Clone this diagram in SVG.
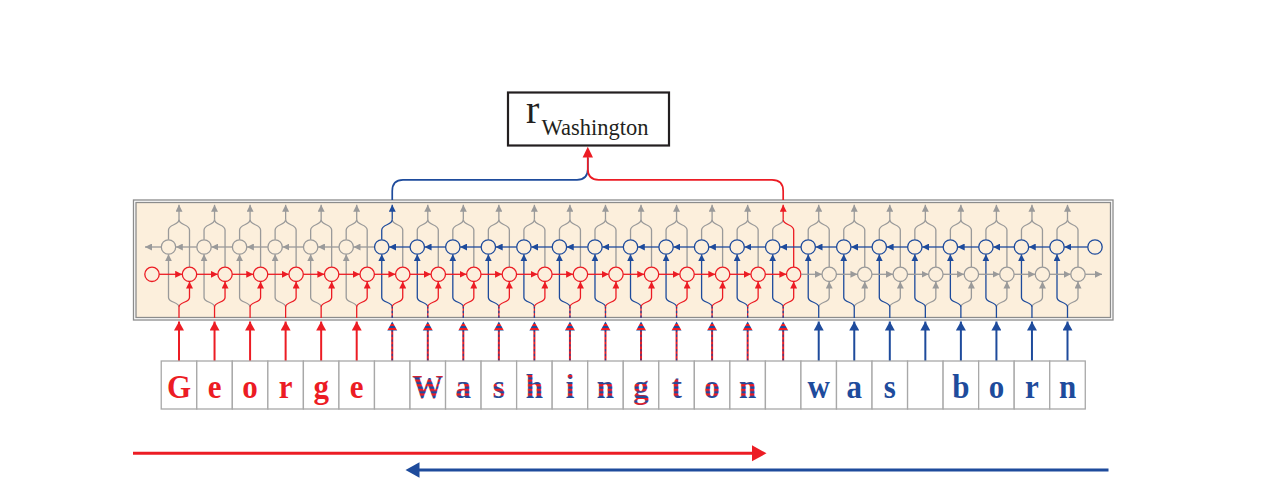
<svg xmlns="http://www.w3.org/2000/svg" width="1275" height="489" viewBox="0 0 1275 489">
<style>
.g{stroke:#9a9a9a}.r{stroke:#ec1c24}.b{stroke:#1e4b9c}
.w path{fill:none;stroke-width:1.3}
.w circle{fill:#fcefdc;stroke-width:1.3}
.ag{marker-end:url(#mg)}.ar{marker-end:url(#mr)}.ab{marker-end:url(#mb)}
.in{stroke-width:2;fill:none}
.Ar{marker-end:url(#Mr)}.Ab{marker-end:url(#Mb)}
.bd{stroke:#1e4b9c;stroke-width:1.1;stroke-dasharray:2.4 2.4;fill:none}
.lb rect{fill:#fff;stroke:#a8a8a8;stroke-width:1.3}
.lt{font-family:"Liberation Serif","Times New Roman",serif;font-weight:bold;font-size:31px;text-anchor:middle}
.fr{fill:#ec1c24}.fb{fill:#1e4b9c}.fs{fill:url(#pl)}
</style>
<defs>
<marker id="mg" viewBox="0 0 7 7" refX="7" refY="3.5" markerWidth="7" markerHeight="7" markerUnits="userSpaceOnUse" orient="auto"><path d="M0,0L7,3.5L0,7z" fill="#9a9a9a"/></marker>
<marker id="mr" viewBox="0 0 7 7" refX="7" refY="3.5" markerWidth="7" markerHeight="7" markerUnits="userSpaceOnUse" orient="auto"><path d="M0,0L7,3.5L0,7z" fill="#ec1c24"/></marker>
<marker id="mb" viewBox="0 0 7 7" refX="7" refY="3.5" markerWidth="7" markerHeight="7" markerUnits="userSpaceOnUse" orient="auto"><path d="M0,0L7,3.5L0,7z" fill="#1e4b9c"/></marker>
<marker id="Mr" viewBox="0 0 9 10" refX="9" refY="5" markerWidth="9" markerHeight="10" markerUnits="userSpaceOnUse" orient="auto"><path d="M0,0L9,5L0,10z" fill="#ec1c24"/></marker>
<marker id="Mb" viewBox="0 0 9 10" refX="9" refY="5" markerWidth="9" markerHeight="10" markerUnits="userSpaceOnUse" orient="auto"><path d="M0,0L9,5L0,10z" fill="#1e4b9c"/></marker>
<pattern id="ps" patternUnits="userSpaceOnUse" width="20" height="4"><rect width="20" height="4" fill="#ec1c24"/><rect y="2" width="20" height="2" fill="#1e4b9c"/></pattern>
<pattern id="pl" patternUnits="userSpaceOnUse" width="40" height="4.2"><rect width="40" height="4.2" fill="#ec1c24"/><rect y="2.1" width="40" height="2.1" fill="#1e4b9c"/></pattern>
</defs>

<rect width="1275" height="489" fill="#fff"/>

<g id="lstm-frame">
<rect x="133.5" y="200" width="979.5" height="120" fill="#fff" stroke="#8c8c8c" stroke-width="1.3"/>
<rect x="136" y="202.5" width="974.5" height="115" fill="#fcefdc" stroke="#8c8c8c" stroke-width="1.3"/>
</g>

<g id="r-washington">
<rect x="508" y="92.5" width="161" height="53" fill="#fff" stroke="#231f20" stroke-width="2.2"/>
<text font-family="'Liberation Serif','Times New Roman',serif" fill="#231f20"><tspan x="526" y="122.5" font-size="40">r</tspan><tspan x="541.5" y="135" font-size="22.5">Washington</tspan></text>
</g>

<g id="initial-states" class="w">
<circle class="r" cx="152" cy="274.3" r="7.2"/>
<circle class="b" cx="1095" cy="247" r="7.2"/>
<path class="g ag" d="M161.3,247H145"/>
<path class="g ag" d="M1085.2,274.3H1102"/>
</g>

<g id="col-0" class="w" transform="translate(179 0)">
<path class="r" d="M0,318V307"/>
<path class="g ag" d="M0,307C0,301.5 -10.5,303 -10.5,297.5V254.3"/>
<path class="r ar" d="M0,307C0,301.5 10.5,303 10.5,297.5V281.6"/>
<path class="g" d="M-10.5,239.8V230C-10.5,224 0,225.5 0,219.5"/>
<path class="g" d="M10.5,267.1V230C10.5,224 0,225.5 0,219.5"/>
<path class="g ag" d="M0,219.5V204.8"/>
<path class="g ag" d="M17.8,247H-3.2"/>
<path class="r ar" d="M-19.8,274.3H3.2"/>
<circle class="g" cx="-10.5" cy="247" r="7.2"/>
<circle class="r" cx="10.5" cy="274.3" r="7.2"/>
</g>
<g id="col-1" class="w" transform="translate(214.54 0)">
<path class="r" d="M0,318V307"/>
<path class="g ag" d="M0,307C0,301.5 -10.5,303 -10.5,297.5V254.3"/>
<path class="r ar" d="M0,307C0,301.5 10.5,303 10.5,297.5V281.6"/>
<path class="g" d="M-10.5,239.8V230C-10.5,224 0,225.5 0,219.5"/>
<path class="g" d="M10.5,267.1V230C10.5,224 0,225.5 0,219.5"/>
<path class="g ag" d="M0,219.5V204.8"/>
<path class="g ag" d="M17.8,247H-3.2"/>
<path class="r ar" d="M-17.8,274.3H3.2"/>
<circle class="g" cx="-10.5" cy="247" r="7.2"/>
<circle class="r" cx="10.5" cy="274.3" r="7.2"/>
</g>
<g id="col-2" class="w" transform="translate(250.08 0)">
<path class="r" d="M0,318V307"/>
<path class="g ag" d="M0,307C0,301.5 -10.5,303 -10.5,297.5V254.3"/>
<path class="r ar" d="M0,307C0,301.5 10.5,303 10.5,297.5V281.6"/>
<path class="g" d="M-10.5,239.8V230C-10.5,224 0,225.5 0,219.5"/>
<path class="g" d="M10.5,267.1V230C10.5,224 0,225.5 0,219.5"/>
<path class="g ag" d="M0,219.5V204.8"/>
<path class="g ag" d="M17.8,247H-3.2"/>
<path class="r ar" d="M-17.8,274.3H3.2"/>
<circle class="g" cx="-10.5" cy="247" r="7.2"/>
<circle class="r" cx="10.5" cy="274.3" r="7.2"/>
</g>
<g id="col-3" class="w" transform="translate(285.62 0)">
<path class="r" d="M0,318V307"/>
<path class="g ag" d="M0,307C0,301.5 -10.5,303 -10.5,297.5V254.3"/>
<path class="r ar" d="M0,307C0,301.5 10.5,303 10.5,297.5V281.6"/>
<path class="g" d="M-10.5,239.8V230C-10.5,224 0,225.5 0,219.5"/>
<path class="g" d="M10.5,267.1V230C10.5,224 0,225.5 0,219.5"/>
<path class="g ag" d="M0,219.5V204.8"/>
<path class="g ag" d="M17.8,247H-3.2"/>
<path class="r ar" d="M-17.8,274.3H3.2"/>
<circle class="g" cx="-10.5" cy="247" r="7.2"/>
<circle class="r" cx="10.5" cy="274.3" r="7.2"/>
</g>
<g id="col-4" class="w" transform="translate(321.16 0)">
<path class="r" d="M0,318V307"/>
<path class="g ag" d="M0,307C0,301.5 -10.5,303 -10.5,297.5V254.3"/>
<path class="r ar" d="M0,307C0,301.5 10.5,303 10.5,297.5V281.6"/>
<path class="g" d="M-10.5,239.8V230C-10.5,224 0,225.5 0,219.5"/>
<path class="g" d="M10.5,267.1V230C10.5,224 0,225.5 0,219.5"/>
<path class="g ag" d="M0,219.5V204.8"/>
<path class="g ag" d="M17.8,247H-3.2"/>
<path class="r ar" d="M-17.8,274.3H3.2"/>
<circle class="g" cx="-10.5" cy="247" r="7.2"/>
<circle class="r" cx="10.5" cy="274.3" r="7.2"/>
</g>
<g id="col-5" class="w" transform="translate(356.70 0)">
<path class="r" d="M0,318V307"/>
<path class="g ag" d="M0,307C0,301.5 -10.5,303 -10.5,297.5V254.3"/>
<path class="r ar" d="M0,307C0,301.5 10.5,303 10.5,297.5V281.6"/>
<path class="g" d="M-10.5,239.8V230C-10.5,224 0,225.5 0,219.5"/>
<path class="g" d="M10.5,267.1V230C10.5,224 0,225.5 0,219.5"/>
<path class="g ag" d="M0,219.5V204.8"/>
<path class="g ag" d="M17.8,247H-3.2"/>
<path class="r ar" d="M-17.8,274.3H3.2"/>
<circle class="g" cx="-10.5" cy="247" r="7.2"/>
<circle class="r" cx="10.5" cy="274.3" r="7.2"/>
</g>
<g id="col-6" class="w" transform="translate(392.24 0)">
<path class="r" d="M0,318V307"/><path class="bd" d="M0,318V307"/>
<path class="b ab" d="M0,307C0,301.5 -10.5,303 -10.5,297.5V254.3"/>
<path class="r ar" d="M0,307C0,301.5 10.5,303 10.5,297.5V281.6"/>
<path class="g" d="M10.5,267.1V230C10.5,224 0,225.5 0,219.5"/>
<path class="b" d="M-10.5,239.8V230C-10.5,224 0,225.5 0,219.5"/>
<path class="b ab" d="M0,219.5V204.8"/>
<path class="b ab" d="M17.8,247H-3.2"/>
<path class="r ar" d="M-17.8,274.3H3.2"/>
<circle class="b" cx="-10.5" cy="247" r="7.2"/>
<circle class="r" cx="10.5" cy="274.3" r="7.2"/>
</g>
<g id="col-7" class="w" transform="translate(427.78 0)">
<path class="r" d="M0,318V307"/><path class="bd" d="M0,318V307"/>
<path class="b ab" d="M0,307C0,301.5 -10.5,303 -10.5,297.5V254.3"/>
<path class="r ar" d="M0,307C0,301.5 10.5,303 10.5,297.5V281.6"/>
<path class="g" d="M-10.5,239.8V230C-10.5,224 0,225.5 0,219.5"/>
<path class="g" d="M10.5,267.1V230C10.5,224 0,225.5 0,219.5"/>
<path class="g ag" d="M0,219.5V204.8"/>
<path class="b ab" d="M17.8,247H-3.2"/>
<path class="r ar" d="M-17.8,274.3H3.2"/>
<circle class="b" cx="-10.5" cy="247" r="7.2"/>
<circle class="r" cx="10.5" cy="274.3" r="7.2"/>
</g>
<g id="col-8" class="w" transform="translate(463.32 0)">
<path class="r" d="M0,318V307"/><path class="bd" d="M0,318V307"/>
<path class="b ab" d="M0,307C0,301.5 -10.5,303 -10.5,297.5V254.3"/>
<path class="r ar" d="M0,307C0,301.5 10.5,303 10.5,297.5V281.6"/>
<path class="g" d="M-10.5,239.8V230C-10.5,224 0,225.5 0,219.5"/>
<path class="g" d="M10.5,267.1V230C10.5,224 0,225.5 0,219.5"/>
<path class="g ag" d="M0,219.5V204.8"/>
<path class="b ab" d="M17.8,247H-3.2"/>
<path class="r ar" d="M-17.8,274.3H3.2"/>
<circle class="b" cx="-10.5" cy="247" r="7.2"/>
<circle class="r" cx="10.5" cy="274.3" r="7.2"/>
</g>
<g id="col-9" class="w" transform="translate(498.86 0)">
<path class="r" d="M0,318V307"/><path class="bd" d="M0,318V307"/>
<path class="b ab" d="M0,307C0,301.5 -10.5,303 -10.5,297.5V254.3"/>
<path class="r ar" d="M0,307C0,301.5 10.5,303 10.5,297.5V281.6"/>
<path class="g" d="M-10.5,239.8V230C-10.5,224 0,225.5 0,219.5"/>
<path class="g" d="M10.5,267.1V230C10.5,224 0,225.5 0,219.5"/>
<path class="g ag" d="M0,219.5V204.8"/>
<path class="b ab" d="M17.8,247H-3.2"/>
<path class="r ar" d="M-17.8,274.3H3.2"/>
<circle class="b" cx="-10.5" cy="247" r="7.2"/>
<circle class="r" cx="10.5" cy="274.3" r="7.2"/>
</g>
<g id="col-10" class="w" transform="translate(534.40 0)">
<path class="r" d="M0,318V307"/><path class="bd" d="M0,318V307"/>
<path class="b ab" d="M0,307C0,301.5 -10.5,303 -10.5,297.5V254.3"/>
<path class="r ar" d="M0,307C0,301.5 10.5,303 10.5,297.5V281.6"/>
<path class="g" d="M-10.5,239.8V230C-10.5,224 0,225.5 0,219.5"/>
<path class="g" d="M10.5,267.1V230C10.5,224 0,225.5 0,219.5"/>
<path class="g ag" d="M0,219.5V204.8"/>
<path class="b ab" d="M17.8,247H-3.2"/>
<path class="r ar" d="M-17.8,274.3H3.2"/>
<circle class="b" cx="-10.5" cy="247" r="7.2"/>
<circle class="r" cx="10.5" cy="274.3" r="7.2"/>
</g>
<g id="col-11" class="w" transform="translate(569.94 0)">
<path class="r" d="M0,318V307"/><path class="bd" d="M0,318V307"/>
<path class="b ab" d="M0,307C0,301.5 -10.5,303 -10.5,297.5V254.3"/>
<path class="r ar" d="M0,307C0,301.5 10.5,303 10.5,297.5V281.6"/>
<path class="g" d="M-10.5,239.8V230C-10.5,224 0,225.5 0,219.5"/>
<path class="g" d="M10.5,267.1V230C10.5,224 0,225.5 0,219.5"/>
<path class="g ag" d="M0,219.5V204.8"/>
<path class="b ab" d="M17.8,247H-3.2"/>
<path class="r ar" d="M-17.8,274.3H3.2"/>
<circle class="b" cx="-10.5" cy="247" r="7.2"/>
<circle class="r" cx="10.5" cy="274.3" r="7.2"/>
</g>
<g id="col-12" class="w" transform="translate(605.48 0)">
<path class="r" d="M0,318V307"/><path class="bd" d="M0,318V307"/>
<path class="b ab" d="M0,307C0,301.5 -10.5,303 -10.5,297.5V254.3"/>
<path class="r ar" d="M0,307C0,301.5 10.5,303 10.5,297.5V281.6"/>
<path class="g" d="M-10.5,239.8V230C-10.5,224 0,225.5 0,219.5"/>
<path class="g" d="M10.5,267.1V230C10.5,224 0,225.5 0,219.5"/>
<path class="g ag" d="M0,219.5V204.8"/>
<path class="b ab" d="M17.8,247H-3.2"/>
<path class="r ar" d="M-17.8,274.3H3.2"/>
<circle class="b" cx="-10.5" cy="247" r="7.2"/>
<circle class="r" cx="10.5" cy="274.3" r="7.2"/>
</g>
<g id="col-13" class="w" transform="translate(641.02 0)">
<path class="r" d="M0,318V307"/><path class="bd" d="M0,318V307"/>
<path class="b ab" d="M0,307C0,301.5 -10.5,303 -10.5,297.5V254.3"/>
<path class="r ar" d="M0,307C0,301.5 10.5,303 10.5,297.5V281.6"/>
<path class="g" d="M-10.5,239.8V230C-10.5,224 0,225.5 0,219.5"/>
<path class="g" d="M10.5,267.1V230C10.5,224 0,225.5 0,219.5"/>
<path class="g ag" d="M0,219.5V204.8"/>
<path class="b ab" d="M17.8,247H-3.2"/>
<path class="r ar" d="M-17.8,274.3H3.2"/>
<circle class="b" cx="-10.5" cy="247" r="7.2"/>
<circle class="r" cx="10.5" cy="274.3" r="7.2"/>
</g>
<g id="col-14" class="w" transform="translate(676.56 0)">
<path class="r" d="M0,318V307"/><path class="bd" d="M0,318V307"/>
<path class="b ab" d="M0,307C0,301.5 -10.5,303 -10.5,297.5V254.3"/>
<path class="r ar" d="M0,307C0,301.5 10.5,303 10.5,297.5V281.6"/>
<path class="g" d="M-10.5,239.8V230C-10.5,224 0,225.5 0,219.5"/>
<path class="g" d="M10.5,267.1V230C10.5,224 0,225.5 0,219.5"/>
<path class="g ag" d="M0,219.5V204.8"/>
<path class="b ab" d="M17.8,247H-3.2"/>
<path class="r ar" d="M-17.8,274.3H3.2"/>
<circle class="b" cx="-10.5" cy="247" r="7.2"/>
<circle class="r" cx="10.5" cy="274.3" r="7.2"/>
</g>
<g id="col-15" class="w" transform="translate(712.10 0)">
<path class="r" d="M0,318V307"/><path class="bd" d="M0,318V307"/>
<path class="b ab" d="M0,307C0,301.5 -10.5,303 -10.5,297.5V254.3"/>
<path class="r ar" d="M0,307C0,301.5 10.5,303 10.5,297.5V281.6"/>
<path class="g" d="M-10.5,239.8V230C-10.5,224 0,225.5 0,219.5"/>
<path class="g" d="M10.5,267.1V230C10.5,224 0,225.5 0,219.5"/>
<path class="g ag" d="M0,219.5V204.8"/>
<path class="b ab" d="M17.8,247H-3.2"/>
<path class="r ar" d="M-17.8,274.3H3.2"/>
<circle class="b" cx="-10.5" cy="247" r="7.2"/>
<circle class="r" cx="10.5" cy="274.3" r="7.2"/>
</g>
<g id="col-16" class="w" transform="translate(747.64 0)">
<path class="r" d="M0,318V307"/><path class="bd" d="M0,318V307"/>
<path class="b ab" d="M0,307C0,301.5 -10.5,303 -10.5,297.5V254.3"/>
<path class="r ar" d="M0,307C0,301.5 10.5,303 10.5,297.5V281.6"/>
<path class="g" d="M-10.5,239.8V230C-10.5,224 0,225.5 0,219.5"/>
<path class="g" d="M10.5,267.1V230C10.5,224 0,225.5 0,219.5"/>
<path class="g ag" d="M0,219.5V204.8"/>
<path class="b ab" d="M17.8,247H-3.2"/>
<path class="r ar" d="M-17.8,274.3H3.2"/>
<circle class="b" cx="-10.5" cy="247" r="7.2"/>
<circle class="r" cx="10.5" cy="274.3" r="7.2"/>
</g>
<g id="col-17" class="w" transform="translate(783.18 0)">
<path class="r" d="M0,318V307"/><path class="bd" d="M0,318V307"/>
<path class="b ab" d="M0,307C0,301.5 -10.5,303 -10.5,297.5V254.3"/>
<path class="r ar" d="M0,307C0,301.5 10.5,303 10.5,297.5V281.6"/>
<path class="g" d="M-10.5,239.8V230C-10.5,224 0,225.5 0,219.5"/>
<path class="r" d="M10.5,267.1V230C10.5,224 0,225.5 0,219.5"/>
<path class="r ar" d="M0,219.5V204.8"/>
<path class="b ab" d="M17.8,247H-3.2"/>
<path class="r ar" d="M-17.8,274.3H3.2"/>
<circle class="b" cx="-10.5" cy="247" r="7.2"/>
<circle class="r" cx="10.5" cy="274.3" r="7.2"/>
</g>
<g id="col-18" class="w" transform="translate(818.72 0)">
<path class="b" d="M0,318V307"/>
<path class="g ag" d="M0,307C0,301.5 10.5,303 10.5,297.5V281.6"/>
<path class="b ab" d="M0,307C0,301.5 -10.5,303 -10.5,297.5V254.3"/>
<path class="g" d="M-10.5,239.8V230C-10.5,224 0,225.5 0,219.5"/>
<path class="g" d="M10.5,267.1V230C10.5,224 0,225.5 0,219.5"/>
<path class="g ag" d="M0,219.5V204.8"/>
<path class="b ab" d="M17.8,247H-3.2"/>
<path class="g ag" d="M-17.8,274.3H3.2"/>
<circle class="b" cx="-10.5" cy="247" r="7.2"/>
<circle class="g" cx="10.5" cy="274.3" r="7.2"/>
</g>
<g id="col-19" class="w" transform="translate(854.26 0)">
<path class="b" d="M0,318V307"/>
<path class="g ag" d="M0,307C0,301.5 10.5,303 10.5,297.5V281.6"/>
<path class="b ab" d="M0,307C0,301.5 -10.5,303 -10.5,297.5V254.3"/>
<path class="g" d="M-10.5,239.8V230C-10.5,224 0,225.5 0,219.5"/>
<path class="g" d="M10.5,267.1V230C10.5,224 0,225.5 0,219.5"/>
<path class="g ag" d="M0,219.5V204.8"/>
<path class="b ab" d="M17.8,247H-3.2"/>
<path class="g ag" d="M-17.8,274.3H3.2"/>
<circle class="b" cx="-10.5" cy="247" r="7.2"/>
<circle class="g" cx="10.5" cy="274.3" r="7.2"/>
</g>
<g id="col-20" class="w" transform="translate(889.80 0)">
<path class="b" d="M0,318V307"/>
<path class="g ag" d="M0,307C0,301.5 10.5,303 10.5,297.5V281.6"/>
<path class="b ab" d="M0,307C0,301.5 -10.5,303 -10.5,297.5V254.3"/>
<path class="g" d="M-10.5,239.8V230C-10.5,224 0,225.5 0,219.5"/>
<path class="g" d="M10.5,267.1V230C10.5,224 0,225.5 0,219.5"/>
<path class="g ag" d="M0,219.5V204.8"/>
<path class="b ab" d="M17.8,247H-3.2"/>
<path class="g ag" d="M-17.8,274.3H3.2"/>
<circle class="b" cx="-10.5" cy="247" r="7.2"/>
<circle class="g" cx="10.5" cy="274.3" r="7.2"/>
</g>
<g id="col-21" class="w" transform="translate(925.34 0)">
<path class="b" d="M0,318V307"/>
<path class="g ag" d="M0,307C0,301.5 10.5,303 10.5,297.5V281.6"/>
<path class="b ab" d="M0,307C0,301.5 -10.5,303 -10.5,297.5V254.3"/>
<path class="g" d="M-10.5,239.8V230C-10.5,224 0,225.5 0,219.5"/>
<path class="g" d="M10.5,267.1V230C10.5,224 0,225.5 0,219.5"/>
<path class="g ag" d="M0,219.5V204.8"/>
<path class="b ab" d="M17.8,247H-3.2"/>
<path class="g ag" d="M-17.8,274.3H3.2"/>
<circle class="b" cx="-10.5" cy="247" r="7.2"/>
<circle class="g" cx="10.5" cy="274.3" r="7.2"/>
</g>
<g id="col-22" class="w" transform="translate(960.88 0)">
<path class="b" d="M0,318V307"/>
<path class="g ag" d="M0,307C0,301.5 10.5,303 10.5,297.5V281.6"/>
<path class="b ab" d="M0,307C0,301.5 -10.5,303 -10.5,297.5V254.3"/>
<path class="g" d="M-10.5,239.8V230C-10.5,224 0,225.5 0,219.5"/>
<path class="g" d="M10.5,267.1V230C10.5,224 0,225.5 0,219.5"/>
<path class="g ag" d="M0,219.5V204.8"/>
<path class="b ab" d="M17.8,247H-3.2"/>
<path class="g ag" d="M-17.8,274.3H3.2"/>
<circle class="b" cx="-10.5" cy="247" r="7.2"/>
<circle class="g" cx="10.5" cy="274.3" r="7.2"/>
</g>
<g id="col-23" class="w" transform="translate(996.42 0)">
<path class="b" d="M0,318V307"/>
<path class="g ag" d="M0,307C0,301.5 10.5,303 10.5,297.5V281.6"/>
<path class="b ab" d="M0,307C0,301.5 -10.5,303 -10.5,297.5V254.3"/>
<path class="g" d="M-10.5,239.8V230C-10.5,224 0,225.5 0,219.5"/>
<path class="g" d="M10.5,267.1V230C10.5,224 0,225.5 0,219.5"/>
<path class="g ag" d="M0,219.5V204.8"/>
<path class="b ab" d="M17.8,247H-3.2"/>
<path class="g ag" d="M-17.8,274.3H3.2"/>
<circle class="b" cx="-10.5" cy="247" r="7.2"/>
<circle class="g" cx="10.5" cy="274.3" r="7.2"/>
</g>
<g id="col-24" class="w" transform="translate(1031.96 0)">
<path class="b" d="M0,318V307"/>
<path class="g ag" d="M0,307C0,301.5 10.5,303 10.5,297.5V281.6"/>
<path class="b ab" d="M0,307C0,301.5 -10.5,303 -10.5,297.5V254.3"/>
<path class="g" d="M-10.5,239.8V230C-10.5,224 0,225.5 0,219.5"/>
<path class="g" d="M10.5,267.1V230C10.5,224 0,225.5 0,219.5"/>
<path class="g ag" d="M0,219.5V204.8"/>
<path class="b ab" d="M17.8,247H-3.2"/>
<path class="g ag" d="M-17.8,274.3H3.2"/>
<circle class="b" cx="-10.5" cy="247" r="7.2"/>
<circle class="g" cx="10.5" cy="274.3" r="7.2"/>
</g>
<g id="col-25" class="w" transform="translate(1067.50 0)">
<path class="b" d="M0,318V307"/>
<path class="g ag" d="M0,307C0,301.5 10.5,303 10.5,297.5V281.6"/>
<path class="b ab" d="M0,307C0,301.5 -10.5,303 -10.5,297.5V254.3"/>
<path class="g" d="M-10.5,239.8V230C-10.5,224 0,225.5 0,219.5"/>
<path class="g" d="M10.5,267.1V230C10.5,224 0,225.5 0,219.5"/>
<path class="g ag" d="M0,219.5V204.8"/>
<path class="b ab" d="M20.3,247H-3.2"/>
<path class="g ag" d="M-17.8,274.3H3.2"/>
<circle class="b" cx="-10.5" cy="247" r="7.2"/>
<circle class="g" cx="10.5" cy="274.3" r="7.2"/>
</g>

<g id="connectors">
<path d="M392.24,200V191Q392.24,179.8 403,179.8H577Q587.8,179.8 587.8,169V158" fill="none" stroke="#1e4b9c" stroke-width="1.7"/>
<path d="M783.18,200V191Q783.18,179.8 772,179.8H598.6Q587.8,179.8 587.8,169V157" fill="none" stroke="#ec1c24" stroke-width="1.7"/>
<polygon points="587.8,146.8 582.6,157.5 593,157.5" fill="#ec1c24"/>
<g class="in">
<path class="r Ar" d="M179,361V321.5"/>
<path class="r Ar" d="M214.54,361V321.5"/>
<path class="r Ar" d="M250.08,361V321.5"/>
<path class="r Ar" d="M285.62,361V321.5"/>
<path class="r Ar" d="M321.16,361V321.5"/>
<path class="r Ar" d="M356.7,361V321.5"/>
<path class="b Ab" d="M818.72,361V321.5"/>
<path class="b Ab" d="M854.26,361V321.5"/>
<path class="b Ab" d="M889.8,361V321.5"/>
<path class="b Ab" d="M925.34,361V321.5"/>
<path class="b Ab" d="M960.88,361V321.5"/>
<path class="b Ab" d="M996.42,361V321.5"/>
<path class="b Ab" d="M1031.96,361V321.5"/>
<path class="b Ab" d="M1067.5,361V321.5"/>
<path class="r" d="M392.24,361V330M427.78,361V330M463.32,361V330M498.86,361V330M534.4,361V330M569.94,361V330M605.48,361V330M641.02,361V330M676.56,361V330M712.1,361V330M747.64,361V330M783.18,361V330"/>
</g>
<path class="bd" d="M392.24,361V330M427.78,361V330M463.32,361V330M498.86,361V330M534.4,361V330M569.94,361V330M605.48,361V330M641.02,361V330M676.56,361V330M712.1,361V330M747.64,361V330M783.18,361V330"/>
<g fill="url(#ps)">
<polygon points="392.24,321.5 387.24,330.5 397.24,330.5"/>
<polygon points="427.78,321.5 422.78,330.5 432.78,330.5"/>
<polygon points="463.32,321.5 458.32,330.5 468.32,330.5"/>
<polygon points="498.86,321.5 493.86,330.5 503.86,330.5"/>
<polygon points="534.4,321.5 529.4,330.5 539.4,330.5"/>
<polygon points="569.94,321.5 564.94,330.5 574.94,330.5"/>
<polygon points="605.48,321.5 600.48,330.5 610.48,330.5"/>
<polygon points="641.02,321.5 636.02,330.5 646.02,330.5"/>
<polygon points="676.56,321.5 671.56,330.5 681.56,330.5"/>
<polygon points="712.1,321.5 707.1,330.5 717.1,330.5"/>
<polygon points="747.64,321.5 742.64,330.5 752.64,330.5"/>
<polygon points="783.18,321.5 778.18,330.5 788.18,330.5"/>
</g>
</g>

<g id="letters">
<g id="L0" class="lb"><rect x="161.23" y="361" width="35.54" height="48"/><text class="lt fr" transform="translate(179 398) scale(1 1.1)">G</text></g>
<g id="L1" class="lb"><rect x="196.77" y="361" width="35.54" height="48"/><text class="lt fr" transform="translate(214.54 398) scale(1 1.1)">e</text></g>
<g id="L2" class="lb"><rect x="232.31" y="361" width="35.54" height="48"/><text class="lt fr" transform="translate(250.08 398) scale(1 1.1)">o</text></g>
<g id="L3" class="lb"><rect x="267.85" y="361" width="35.54" height="48"/><text class="lt fr" transform="translate(285.62 398) scale(1 1.1)">r</text></g>
<g id="L4" class="lb"><rect x="303.39" y="361" width="35.54" height="48"/><text class="lt fr" transform="translate(321.16 398) scale(1 1.1)">g</text></g>
<g id="L5" class="lb"><rect x="338.93" y="361" width="35.54" height="48"/><text class="lt fr" transform="translate(356.7 398) scale(1 1.1)">e</text></g>
<g id="L6" class="lb"><rect x="374.47" y="361" width="35.54" height="48"/></g>
<g id="L7" class="lb"><rect x="410.01" y="361" width="35.54" height="48"/><text class="lt fs" transform="translate(427.78 398) scale(1 1.1)">W</text></g>
<g id="L8" class="lb"><rect x="445.55" y="361" width="35.54" height="48"/><text class="lt fs" transform="translate(463.32 398) scale(1 1.1)">a</text></g>
<g id="L9" class="lb"><rect x="481.09" y="361" width="35.54" height="48"/><text class="lt fs" transform="translate(498.86 398) scale(1 1.1)">s</text></g>
<g id="L10" class="lb"><rect x="516.63" y="361" width="35.54" height="48"/><text class="lt fs" transform="translate(534.4 398) scale(1 1.1)">h</text></g>
<g id="L11" class="lb"><rect x="552.17" y="361" width="35.54" height="48"/><text class="lt fs" transform="translate(569.94 398) scale(1 1.1)">i</text></g>
<g id="L12" class="lb"><rect x="587.71" y="361" width="35.54" height="48"/><text class="lt fs" transform="translate(605.48 398) scale(1 1.1)">n</text></g>
<g id="L13" class="lb"><rect x="623.25" y="361" width="35.54" height="48"/><text class="lt fs" transform="translate(641.02 398) scale(1 1.1)">g</text></g>
<g id="L14" class="lb"><rect x="658.79" y="361" width="35.54" height="48"/><text class="lt fs" transform="translate(676.56 398) scale(1 1.1)">t</text></g>
<g id="L15" class="lb"><rect x="694.33" y="361" width="35.54" height="48"/><text class="lt fs" transform="translate(712.1 398) scale(1 1.1)">o</text></g>
<g id="L16" class="lb"><rect x="729.87" y="361" width="35.54" height="48"/><text class="lt fs" transform="translate(747.64 398) scale(1 1.1)">n</text></g>
<g id="L17" class="lb"><rect x="765.41" y="361" width="35.54" height="48"/></g>
<g id="L18" class="lb"><rect x="800.95" y="361" width="35.54" height="48"/><text class="lt fb" transform="translate(818.72 398) scale(1 1.1)">w</text></g>
<g id="L19" class="lb"><rect x="836.49" y="361" width="35.54" height="48"/><text class="lt fb" transform="translate(854.26 398) scale(1 1.1)">a</text></g>
<g id="L20" class="lb"><rect x="872.03" y="361" width="35.54" height="48"/><text class="lt fb" transform="translate(889.8 398) scale(1 1.1)">s</text></g>
<g id="L21" class="lb"><rect x="907.57" y="361" width="35.54" height="48"/></g>
<g id="L22" class="lb"><rect x="943.11" y="361" width="35.54" height="48"/><text class="lt fb" transform="translate(960.88 398) scale(1 1.1)">b</text></g>
<g id="L23" class="lb"><rect x="978.65" y="361" width="35.54" height="48"/><text class="lt fb" transform="translate(996.42 398) scale(1 1.1)">o</text></g>
<g id="L24" class="lb"><rect x="1014.19" y="361" width="35.54" height="48"/><text class="lt fb" transform="translate(1031.96 398) scale(1 1.1)">r</text></g>
<g id="L25" class="lb"><rect x="1049.73" y="361" width="35.54" height="48"/><text class="lt fb" transform="translate(1067.5 398) scale(1 1.1)">n</text></g>
</g>

<g id="direction-arrows">
<path d="M133,453.3H753" stroke="#ec1c24" stroke-width="3" fill="none"/>
<polygon points="766.5,453.3 752,445.3 752,461.3" fill="#ec1c24"/>
<path d="M1108.5,470H418" stroke="#1e4b9c" stroke-width="3" fill="none"/>
<polygon points="405.5,470 419.5,462.2 419.5,477.8" fill="#1e4b9c"/>
</g>
</svg>
